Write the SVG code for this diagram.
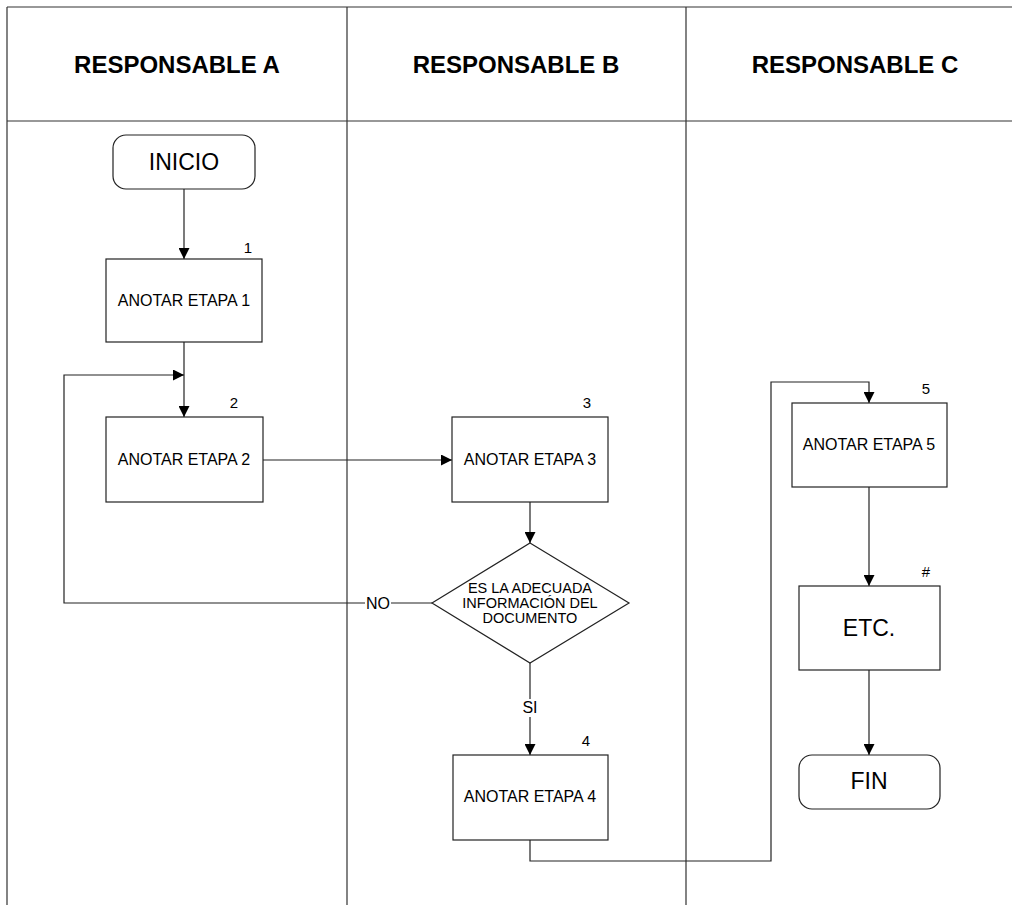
<svg xmlns="http://www.w3.org/2000/svg" width="1012" height="905" viewBox="0 0 1012 905">
<defs>
<marker id="ah" markerUnits="userSpaceOnUse" markerWidth="11" markerHeight="11" refX="11" refY="5.5" orient="auto">
<path d="M0,0 L11,5.5 L0,11 z" fill="#000"/>
</marker>
<style>
.frame{stroke:#333;stroke-width:1.2;fill:none}
.box{fill:#fff;stroke:#222;stroke-width:1.2}
.con{fill:none;stroke:#222;stroke-width:1.2}
.arr{marker-end:url(#ah)}
.hdr{font-family:"Liberation Sans",Arial,sans-serif;font-weight:bold;font-size:24px;text-anchor:middle;fill:#000}
.t{font-family:"Liberation Sans",Arial,sans-serif;font-size:16px;text-anchor:middle;fill:#000}
.lbl{font-family:"Liberation Sans",Arial,sans-serif;font-size:16px;text-anchor:middle;fill:#000}
.big{font-family:"Liberation Sans",Arial,sans-serif;font-size:23px;text-anchor:middle;fill:#000}
.num{font-family:"Liberation Sans",Arial,sans-serif;font-size:15px;text-anchor:middle;fill:#000}
.d{font-family:"Liberation Sans",Arial,sans-serif;font-size:14.5px;text-anchor:middle;fill:#000}
</style>
</defs>
<rect width="1012" height="905" fill="#fff"/>
<g id="lanes">
<path class="frame" d="M7,7 H1012 M7,121 H1012 M7,7 V905 M347,7 V905 M686,7 V905"/>
<text class="hdr" x="177" y="73">RESPONSABLE A</text>
<text class="hdr" x="516" y="73">RESPONSABLE B</text>
<text class="hdr" x="855" y="73">RESPONSABLE C</text>
</g>
<g id="connectors">
<path class="con arr" d="M184,189 V259"/>
<path class="con arr" d="M184,342 V417"/>
<path class="con arr" d="M432,603 H64 V375 H184"/>
<path class="con arr" d="M263,460 H452"/>
<path class="con arr" d="M530,502 V543"/>
<path class="con arr" d="M530,663 V755"/>
<path class="con arr" d="M530,840 V861 H771 V382 H869 V403"/>
<path class="con arr" d="M869,487 V586"/>
<path class="con arr" d="M869,670 V755"/>
<rect x="365" y="595" width="26" height="16" fill="#fff"/>
<text class="lbl" x="378" y="609">NO</text>
<rect x="521" y="699" width="18" height="18" fill="#fff"/>
<text class="lbl" x="530" y="713">SI</text>
</g>
<g id="inicio">
<rect class="box" x="113" y="135" width="142" height="54" rx="13"/>
<text class="big" x="184" y="170">INICIO</text>
</g>
<g id="etapa1">
<rect class="box" x="106" y="259" width="156" height="83"/>
<text class="t" x="184" y="306">ANOTAR ETAPA 1</text>
<text class="num" x="248" y="253">1</text>
</g>
<g id="etapa2">
<rect class="box" x="106" y="417" width="157" height="85"/>
<text class="t" x="184" y="465">ANOTAR ETAPA 2</text>
<text class="num" x="234" y="408">2</text>
</g>
<g id="etapa3">
<rect class="box" x="452" y="417" width="156" height="85"/>
<text class="t" x="530" y="465">ANOTAR ETAPA 3</text>
<text class="num" x="587" y="408">3</text>
</g>
<g id="decision">
<path class="box" d="M530,543 L629,603 L530,663 L432,603 z"/>
<text class="d" x="530" y="593">ES LA ADECUADA</text>
<text class="d" x="530" y="608">INFORMACIÓN DEL</text>
<text class="d" x="530" y="623">DOCUMENTO</text>
</g>
<g id="etapa4">
<rect class="box" x="453" y="755" width="155" height="85"/>
<text class="t" x="530" y="802">ANOTAR ETAPA 4</text>
<text class="num" x="586" y="746">4</text>
</g>
<g id="etapa5">
<rect class="box" x="792" y="403" width="155" height="84"/>
<text class="t" x="869" y="450">ANOTAR ETAPA 5</text>
<text class="num" x="926" y="394">5</text>
</g>
<g id="etc">
<rect class="box" x="799" y="586" width="141" height="84"/>
<text class="big" x="869" y="636">ETC.</text>
<text class="num" x="926" y="577">#</text>
</g>
<g id="fin">
<rect class="box" x="799" y="755" width="141" height="54" rx="13"/>
<text class="big" x="869" y="789">FIN</text>
</g>
</svg>
